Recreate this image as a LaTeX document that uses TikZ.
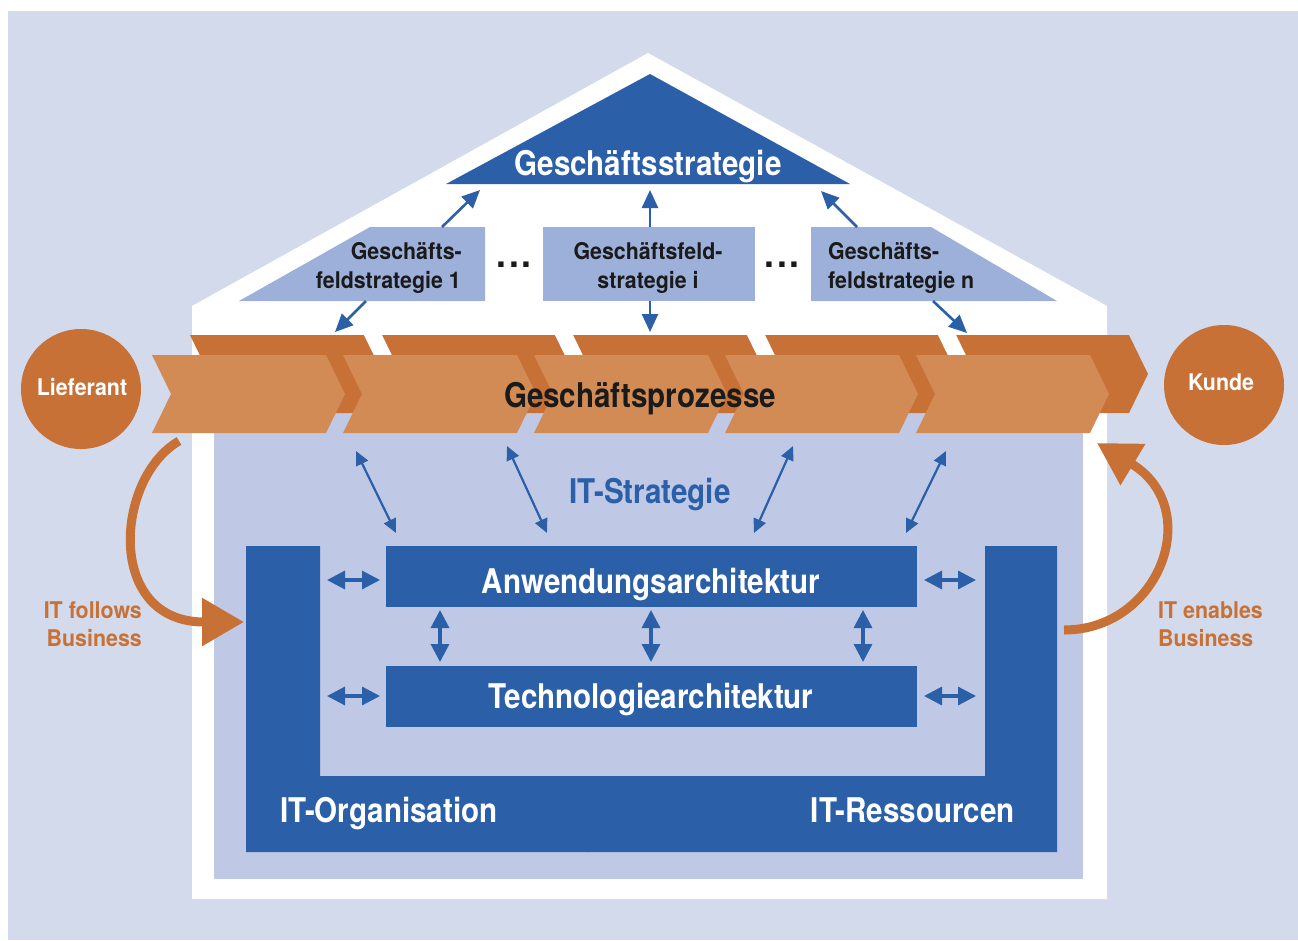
\documentclass[tikz,border=0pt]{standalone}
\usepackage{fontspec}
\setmainfont{TeX Gyre Heros}
\newfontfamily\bigfont{TeX Gyre Heros}[FakeStretch=0.87]
\newfontfamily\smallfont{TeX Gyre Heros}[FakeStretch=0.93]
\usetikzlibrary{arrows.meta}
\definecolor{bgl}{HTML}{D3DAEC}
\definecolor{innerbl}{HTML}{BFC9E5}
\definecolor{itblue}{HTML}{2B5FA8}
\definecolor{boxl}{HTML}{9DB0DA}
\definecolor{dor}{HTML}{C87137}
\definecolor{lor}{HTML}{D38B55}
\definecolor{txtblack}{HTML}{1A1A1A}
\begin{document}
\begin{tikzpicture}[x=1pt,y=-1pt,
  bigtxt/.style={font=\bigfont\bfseries\fontsize{34}{38}\selectfont, inner sep=0pt},
  smalltxt/.style={font=\smallfont\bfseries\fontsize{23}{28}\selectfont, inner sep=0pt},
  dotstxt/.style={font=\smallfont\bfseries\fontsize{38}{40}\selectfont, inner sep=0pt, text=txtblack},
  roofarrow/.style={draw=itblue, line width=2.6pt, -{Triangle[length=18pt,width=16pt]}},
  stratarrow/.style={draw=itblue, line width=2.2pt, {Triangle[length=14pt,width=13pt]}-{Triangle[length=14pt,width=13pt]}},
  archarrow/.style={draw=itblue, line width=3.2pt, {Triangle[length=18pt,width=18pt]}-{Triangle[length=18pt,width=18pt]}},
  orangearrow/.style={draw=dor, line width=9pt, -{Triangle[length=42pt,width=46pt]}},
  archbox/.style={fill=itblue, minimum width=531pt, minimum height=61pt, inner sep=0pt, anchor=north west},
  circ/.style={circle, fill=dor, minimum size=120pt, inner sep=0pt}
]
\useasboundingbox (0,0) rectangle (1298,940);
\fill[white] (0,0) rectangle (1298,940);
\fill[bgl] (8,11) rectangle (1298,940);
% house
\fill[white] (192,899) -- (192,306) -- (648,53) -- (1107,306) -- (1107,899) -- cycle;
\fill[innerbl] (214,400) rectangle (1083,879);

% business strategy triangle
\fill[itblue] (446,184) -- (850,184) -- (650,74) -- cycle;
\node[bigtxt, text=white, anchor=base] (gs) at (648,175) {Geschäftsstrategie};

% business field strategy boxes
\fill[boxl] (239,301) -- (370,227) -- (485,227) -- (485,301) -- cycle;
\fill[boxl] (543,227) rectangle (755,301);
\fill[boxl] (811,227) -- (931,227) -- (1057,301) -- (811,301) -- cycle;
\node[smalltxt, text=txtblack, anchor=base east] (s1a) at (462,259) {Geschäfts-};
\node[smalltxt, text=txtblack, anchor=base east] (s1b) at (461,288) {feldstrategie 1};
\node[smalltxt, text=txtblack, anchor=base] (sia) at (648,259) {Geschäftsfeld-};
\node[smalltxt, text=txtblack, anchor=base] (sib) at (648,288) {strategie i};
\node[smalltxt, text=txtblack, anchor=base west] (sna) at (828,259) {Geschäfts-};
\node[smalltxt, text=txtblack, anchor=base west] (snb) at (828,288) {feldstrategie n};
\node[dotstxt, anchor=base] (d1) at (514,267) {.\kern2.5pt.\kern2.5pt.};
\node[dotstxt, anchor=base] (d2) at (782,267) {.\kern2.5pt.\kern2.5pt.};

% roof arrows
\coordinate (c1up) at (442,227); \coordinate (c1upend) at (480,190);
\coordinate (c1dn) at (366,301); \coordinate (c1dnend) at (335,332);
\coordinate (ciup) at (650,227); \coordinate (ciupend) at (650,190);
\coordinate (cidn) at (650,301); \coordinate (cidnend) at (650,332);
\coordinate (cnup) at (857,227); \coordinate (cnupend) at (821,191);
\coordinate (cndn) at (933,301); \coordinate (cndnend) at (967,333);
\draw[roofarrow] (c1up) -- (c1upend);
\draw[roofarrow] (c1dn) -- (c1dnend);
\draw[roofarrow] (ciup) -- (ciupend);
\draw[roofarrow] (cidn) -- (cidnend);
\draw[roofarrow] (cnup) -- (cnupend);
\draw[roofarrow] (cndn) -- (cndnend);

% process band
\fill[dor] (190,335) -- (1129,335) -- (1148,374) -- (1129,413) -- (228,413) -- cycle;
\foreach \g in {364,555,747,938}
  \fill[white] (\g,335) -- ++(18,0) -- ++(38,78) -- ++(-18,0) -- cycle;
\foreach \L in {152,343,534,725,916}
  \fill[lor] (\L,355) -- ++(174,0) -- ++(19,39) -- ++(-19,39) -- ++(-174,0) -- ++(19,-39) -- cycle;
\node[bigtxt, text=txtblack, anchor=base] (gp) at (640,407) {Geschäftsprozesse};

% supplier / customer
\node[circ] (lief) at (81,389) {};
\node[smalltxt, text=white, anchor=base] (liefT) at (82,395) {Lieferant};
\node[circ] (kunde) at (1224,385) {};
\node[smalltxt, text=white, anchor=base] (kundeT) at (1221,390) {Kunde};

% IT strategy
\node[bigtxt, text=itblue, anchor=base] (its) at (650,503) {IT-Strategie};
\coordinate (p1) at (356,451); \coordinate (q1) at (396,533);
\coordinate (p2) at (507,446); \coordinate (q2) at (547,533);
\coordinate (p3) at (793,446); \coordinate (q3) at (754,533);
\coordinate (p4) at (946,451); \coordinate (q4) at (906,533);
\draw[stratarrow] (p1) -- (q1);
\draw[stratarrow] (p2) -- (q2);
\draw[stratarrow] (p3) -- (q3);
\draw[stratarrow] (p4) -- (q4);

% IT organisation / resources
\fill[itblue] (246,546) -- (320,546) -- (320,776) -- (588,776) -- (588,852) -- (246,852) -- cycle;
\fill[itblue] (587,776) -- (985,776) -- (985,546) -- (1057,546) -- (1057,852) -- (587,852) -- cycle;
\node[bigtxt, text=white, anchor=base west] (ito) at (280,822) {IT-Organisation};
\node[bigtxt, text=white, anchor=base east] (itr) at (1015,822) {IT-Ressourcen};

% architecture boxes
\node[archbox] (anw) at (386,546) {};
\node[archbox] (tech) at (386,666) {};
\node[bigtxt, text=white, anchor=base] (anwT) at (651,593) {Anwendungsarchitektur};
\node[bigtxt, text=white, anchor=base] (techT) at (651,708) {Technologiearchitektur};

\coordinate (h1a) at (327,580); \coordinate (h1b) at (380,580);
\coordinate (h2a) at (924,580); \coordinate (h2b) at (976,580);
\coordinate (h3a) at (327,696); \coordinate (h3b) at (380,696);
\coordinate (h4a) at (924,696); \coordinate (h4b) at (976,696);
\draw[archarrow] (h1a) -- (h1b);
\draw[archarrow] (h2a) -- (h2b);
\draw[archarrow] (h3a) -- (h3b);
\draw[archarrow] (h4a) -- (h4b);
\foreach \x/\n in {440/va,651/vb,863/vc}{
  \coordinate (\n1) at (\x,610); \coordinate (\n2) at (\x,662);
  \draw[archarrow] (\n1) -- (\n2);
}

% curved orange arrows
\coordinate (fa) at (179,441); \coordinate (fb) at (244,622);
\draw[orangearrow] (fa) .. controls (115,478) and (105,622) .. (fb);
\coordinate (ea) at (1064,630); \coordinate (eb) at (1097,443);
\draw[orangearrow] (ea) .. controls (1160,630) and (1205,508) .. (eb);
\node[smalltxt, text=dor, anchor=base east] (f1) at (142,618) {IT follows};
\node[smalltxt, text=dor, anchor=base east] (f2) at (142,646) {Business};
\node[smalltxt, text=dor, anchor=base west] (e1) at (1158,618) {IT enables};
\node[smalltxt, text=dor, anchor=base west] (e2) at (1158,646) {Business};
\end{tikzpicture}
\end{document}
